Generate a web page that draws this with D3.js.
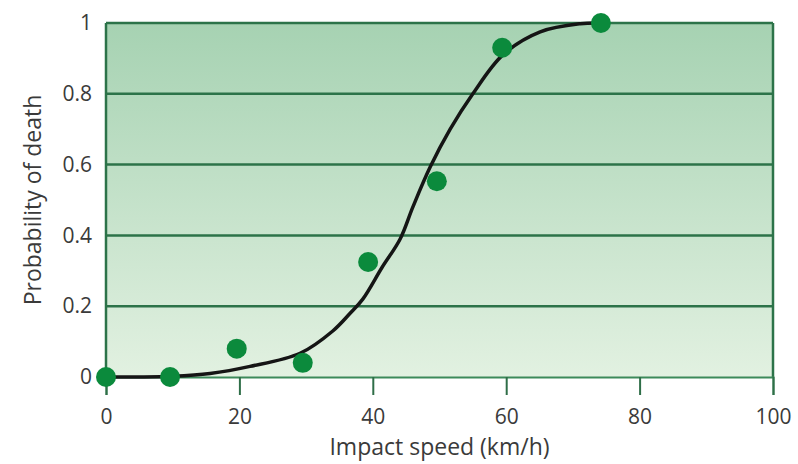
<!DOCTYPE html>
<html>
<head>
<meta charset="utf-8">
<script src="https://cdn.jsdelivr.net/npm/d3@7"></script>
<style>
  body { margin: 0; background: #fff; }
  svg { display: block; }
  .tick text { font-family: "Open Sans", sans-serif; fill: #3a3a3a; }
</style>
</head>
<body>
<div id="chart"></div>
<script>
// --------------------------------------
//  Data
// --------------------------------------

const speeds = [0, 9.6, 19.6, 29.5, 39.3, 49.6, 59.4, 74.2];
const deaths = [0, 0, 0.08, 0.04, 0.325, 0.553, 0.93, 1.0];

// fitted curve
const curveSpeed = [0, 5, 10, 15.6, 21.6, 29.1, 34, 36.6, 38.5, 41.4, 44.1, 46, 48.6, 51.6, 55, 59.5, 65.1, 71.1, 74.2];
const curveProb  = [0, 0, 0.002, 0.01, 0.03, 0.067, 0.13, 0.18, 0.22, 0.31, 0.39, 0.48, 0.593, 0.70, 0.80, 0.91, 0.975, 0.998, 1.0];

const xTicks = [0, 20, 40, 60, 80, 100];
const yTicks = [0, 0.2, 0.4, 0.6, 0.8, 1];

// --------------------------------------
//  Margin and canvas
// --------------------------------------

const margin = {top: 23, right: 25, bottom: 85, left: 106};
const width = 798;
const height = 464;
const innerwidth = width - margin.left - margin.right;
const innerheight = height - margin.top - margin.bottom - 2;

const svg = d3.select("#chart")
  .append("svg")
    .attr("width", width)
    .attr("height", height);

const defs = svg.append("defs");
const grad = defs.append("linearGradient")
    .attr("id", "bg")
    .attr("x1", 0).attr("y1", 0).attr("x2", 0).attr("y2", 1);
grad.append("stop").attr("offset", "0%").attr("stop-color", "#a6d2b2");
grad.append("stop").attr("offset", "100%").attr("stop-color", "#e2f1e1");

const inner = svg.append("g")
    .attr("transform", `translate(${margin.left}, ${margin.top})`);

// --------------------------------------
//  Scales
// --------------------------------------

const x = d3.scaleLinear().domain([0, 100]).range([0, innerwidth]);
const y = d3.scaleLinear().domain([0, 1]).range([innerheight, 0]);

// --------------------------------------
//  Background and grid
// --------------------------------------

inner.append("rect")
    .attr("x", 0).attr("y", 0)
    .attr("width", innerwidth).attr("height", innerheight)
    .attr("fill", "url(#bg)");

inner.append("g")
  .selectAll("line")
  .data(yTicks.filter(d => d > 0))
  .join("line")
    .attr("x1", 0).attr("x2", innerwidth)
    .attr("y1", d => y(d)).attr("y2", d => y(d))
    .attr("stroke", "#2c7349")
    .attr("stroke-width", 2.5);

// side borders
inner.append("line")
    .attr("x1", 0).attr("x2", 0).attr("y1", 0).attr("y2", innerheight)
    .attr("stroke", "#2c7349").attr("stroke-width", 2.5);
inner.append("line")
    .attr("x1", innerwidth).attr("x2", innerwidth).attr("y1", 0).attr("y2", innerheight)
    .attr("stroke", "#2c7349").attr("stroke-width", 2.5);

// --------------------------------------
//  Axes
// --------------------------------------

inner.append("g")
    .attr("transform", `translate(0, ${innerheight})`)
    .call(d3.axisBottom(x)
      .tickValues(xTicks)
      .tickSize(18)
      .tickPadding(14)
      .tickFormat(d3.format("d")))
    .call(g => g.select(".domain").attr("stroke", "#3c8a5a").attr("stroke-width", 2))
    .call(g => g.selectAll(".tick line").attr("stroke", "#2f6e48").attr("stroke-width", 2))
    .call(g => g.selectAll(".tick text").attr("font-size", 21));

inner.append("g")
    .call(d3.axisLeft(y)
      .tickValues(yTicks)
      .tickSize(0)
      .tickPadding(14)
      .tickFormat(d => d === 0 ? "0" : d === 1 ? "1" : d3.format(".1f")(d)))
    .call(g => g.select(".domain").remove())
    .call(g => g.selectAll(".tick text").attr("font-size", 21));

// axis titles
svg.append("text")
    .attr("x", margin.left + innerwidth / 2)
    .attr("y", 455)
    .attr("text-anchor", "middle")
    .attr("font-family", "Open Sans, sans-serif")
    .attr("font-size", 23)
    .attr("fill", "#3a3a3a")
    .text("Impact speed (km/h)");

svg.append("text")
    .attr("transform", "translate(41, 200) rotate(-90)")
    .attr("text-anchor", "middle")
    .attr("font-family", "Open Sans, sans-serif")
    .attr("font-size", 23)
    .attr("fill", "#3a3a3a")
    .text("Probability of death");

// --------------------------------------
//  Curve and points
// --------------------------------------

const curveData = curveSpeed.map((s, i) => ({s: s, p: curveProb[i]}));

const line = d3.line()
    .x(d => x(d.s))
    .y(d => y(d.p))
    .curve(d3.curveCatmullRom.alpha(0.5));

inner.append("path")
    .attr("d", line(curveData))
    .attr("fill", "none")
    .attr("stroke", "#151515")
    .attr("stroke-width", 3.5);

inner.append("g")
  .selectAll("circle")
  .data(speeds.map((s, i) => ({s: s, p: deaths[i]})))
  .join("circle")
    .attr("cx", d => x(d.s))
    .attr("cy", d => y(d.p))
    .attr("r", 10)
    .attr("fill", "#0b8a3c");
</script>
</body>
</html>
